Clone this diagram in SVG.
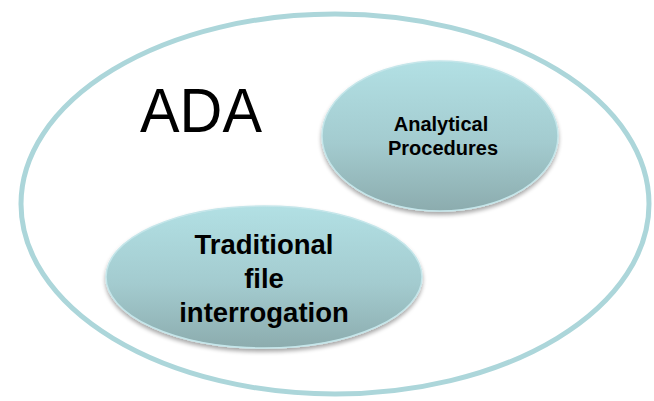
<svg xmlns="http://www.w3.org/2000/svg" width="654" height="401" viewBox="0 0 654 401">
<defs>
<linearGradient id="g" x1="0" y1="0" x2="0" y2="1">
<stop offset="0" stop-color="#b2e0e4"/>
<stop offset="0.55" stop-color="#a3cbcf"/>
<stop offset="1" stop-color="#8cacae"/>
</linearGradient>
<filter id="sh" x="-10%" y="-10%" width="120%" height="130%">
<feGaussianBlur in="SourceAlpha" stdDeviation="2"/>
<feOffset dy="3"/>
<feComponentTransfer><feFuncA type="linear" slope="0.35"/></feComponentTransfer>
<feMerge><feMergeNode/><feMergeNode in="SourceGraphic"/></feMerge>
</filter>
</defs>
<style>
.node{fill:url(#g);stroke:#c5e6ea;stroke-width:1.5;filter:url(#sh)}
.lbl{font-family:"Liberation Sans",Arial,sans-serif;font-weight:bold;fill:#000;text-anchor:middle}
</style>
<rect width="654" height="401" fill="#fff"/>
<g id="ada">
<ellipse cx="335" cy="204" rx="314" ry="190" fill="none" stroke="#acd6da" stroke-width="5"/>
<text x="201" y="132" font-family="'Liberation Sans',Arial,sans-serif" font-size="63" text-anchor="middle" fill="#000" textLength="122" lengthAdjust="spacingAndGlyphs">ADA</text>
</g>
<g id="analytical">
<ellipse class="node" cx="440" cy="136" rx="118" ry="75"/>
<text class="lbl" font-size="20" x="441" y="131">Analytical</text>
<text class="lbl" font-size="20" x="443" y="155">Procedures</text>
</g>
<g id="traditional">
<ellipse class="node" cx="264" cy="277" rx="158" ry="71"/>
<text class="lbl" font-size="27.5" x="264" y="254">Traditional</text>
<text class="lbl" font-size="27.5" x="264" y="288">file</text>
<text class="lbl" font-size="27.5" x="264" y="322">interrogation</text>
</g>
<g id="connectors"/>
</svg>
